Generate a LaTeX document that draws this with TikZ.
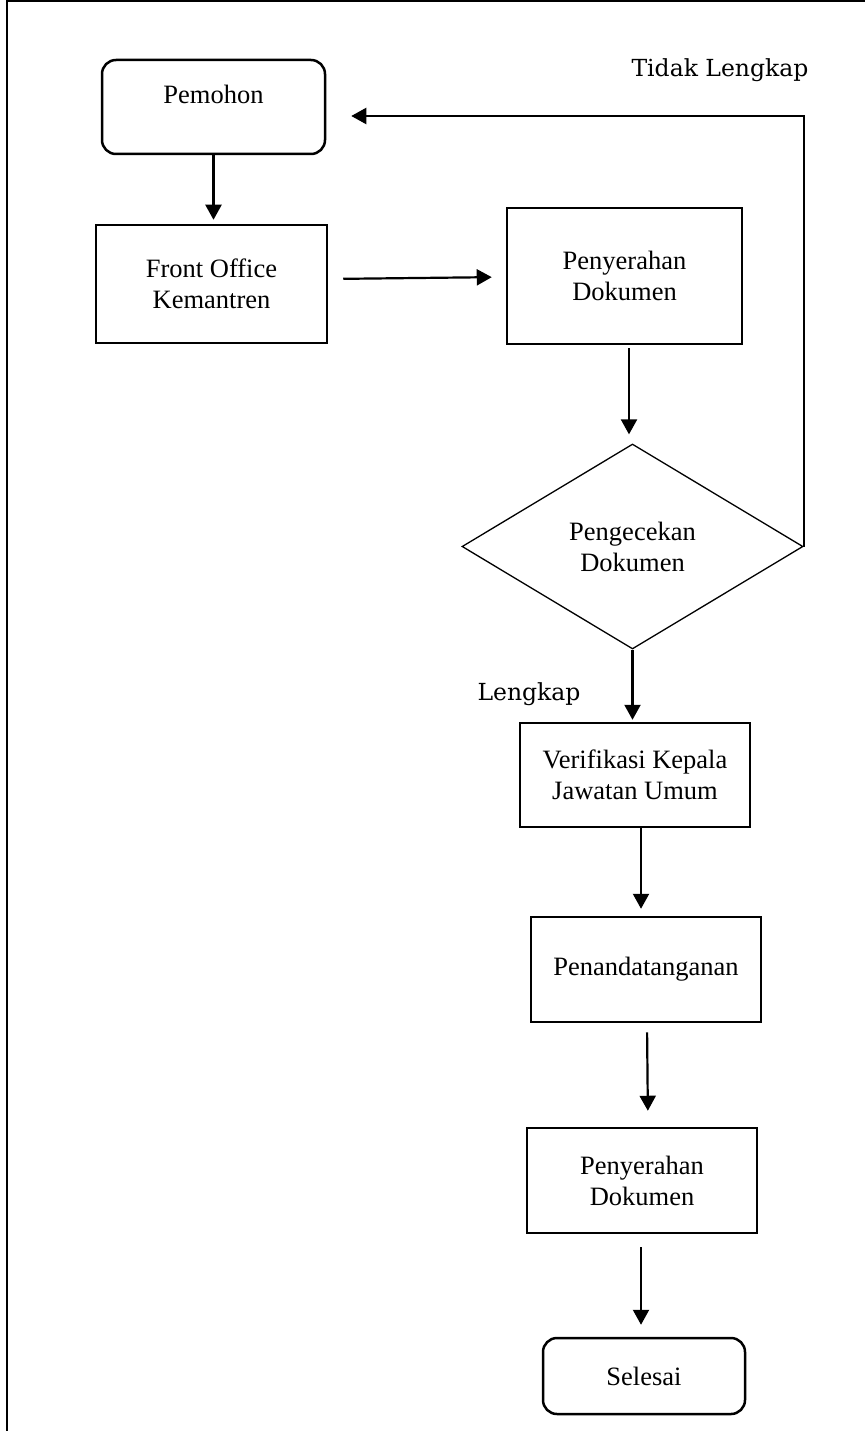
\documentclass[tikz,border=0pt]{standalone}
\usepackage{fontspec}
\setmainfont{Liberation Serif}
\newfontfamily\labelfont{DejaVu Serif}
\usetikzlibrary{shapes.geometric,arrows.meta}
\begin{document}
\begin{tikzpicture}[x=1pt,y=-1pt,
    box/.style={draw, line width=2.5pt, align=center, inner sep=0pt,
        font=\fontsize{26.5}{31}\selectfont},
    rbox/.style={box, rounded corners=14pt},
    cekbox/.style={draw, diamond, line width=1.3pt, align=center, inner sep=0pt,
        font=\fontsize{26.5}{31}\selectfont},
    arr/.style={-{Triangle[length=15pt,width=16pt]}, line width=2.2pt},
    lbl/.style={font=\labelfont\fontsize{23.5}{27}\selectfont, anchor=base}]
    \useasboundingbox (0,0) rectangle (865,1431);

    % Define the page frame
    \draw[line width=2pt] (7,1431) -- (7,1) -- (865,1);

    % Define the steps
    \node[rbox, minimum width=223pt, minimum height=94pt] (pemohon) at (213.5,107) {Pemohon\\[-6pt]~};
    \node[box, minimum width=231pt, minimum height=118pt] (front) at (211.5,284) {Front Office\\Kemantren};
    \node[box, minimum width=235pt, minimum height=136pt] (serah1) at (624.5,276) {Penyerahan\\Dokumen};
    \node[cekbox, minimum width=341pt, minimum height=205pt] (cek) at (632.5,546.5) {Pengecekan\\Dokumen};
    \node[box, minimum width=230pt, minimum height=104pt] (verif) at (635,775) {Verifikasi Kepala\\Jawatan Umum};
    \node[box, minimum width=230pt, minimum height=105pt] (ttd) at (646,969.5) {Penandatanganan};
    \node[box, minimum width=230pt, minimum height=105pt] (serah2) at (642,1180.5) {Penyerahan\\Dokumen};
    \node[rbox, minimum width=202pt, minimum height=76pt] (selesai) at (644,1376) {Selesai};

    % Draw the arrows
    \draw[arr, shorten >=4pt] (pemohon.south) -- (pemohon.south |- front.north);
    \draw[arr, shorten <=15pt, shorten >=14pt] ([yshift=5pt]front.east) -- ([yshift=-1pt]serah1.west);
    \draw[arr, shorten <=3pt, shorten >=9pt] ([xshift=-3.5pt]cek.north |- serah1.south) -- ([xshift=-3.5pt]cek.north);
    \draw[arr, shorten >=2pt] (cek.south) -- (cek.south |- verif.north);
    \draw[arr, shorten >=7pt] ([xshift=6pt]verif.south) -- ([xshift=6pt]verif.south |- ttd.north);
    \draw[arr, shorten <=9pt, shorten >=16pt] ([xshift=1pt]ttd.south) -- ([xshift=2pt]ttd.south |- serah2.north);
    \draw[arr, shorten <=13pt, shorten >=12pt] ([xshift=-1pt]serah2.south) -- ([xshift=-1pt]serah2.south |- selesai.north);

    % Draw the way back
    \draw[arr, shorten >=25pt] (cek.east) |- ([yshift=-9pt]pemohon.east);

    % Label the branches
    \node[lbl] (tidak) at (720,77) {Tidak Lengkap};
    \node[lbl] (lengkap) at (529,700) {Lengkap};

\end{tikzpicture}
\end{document}
